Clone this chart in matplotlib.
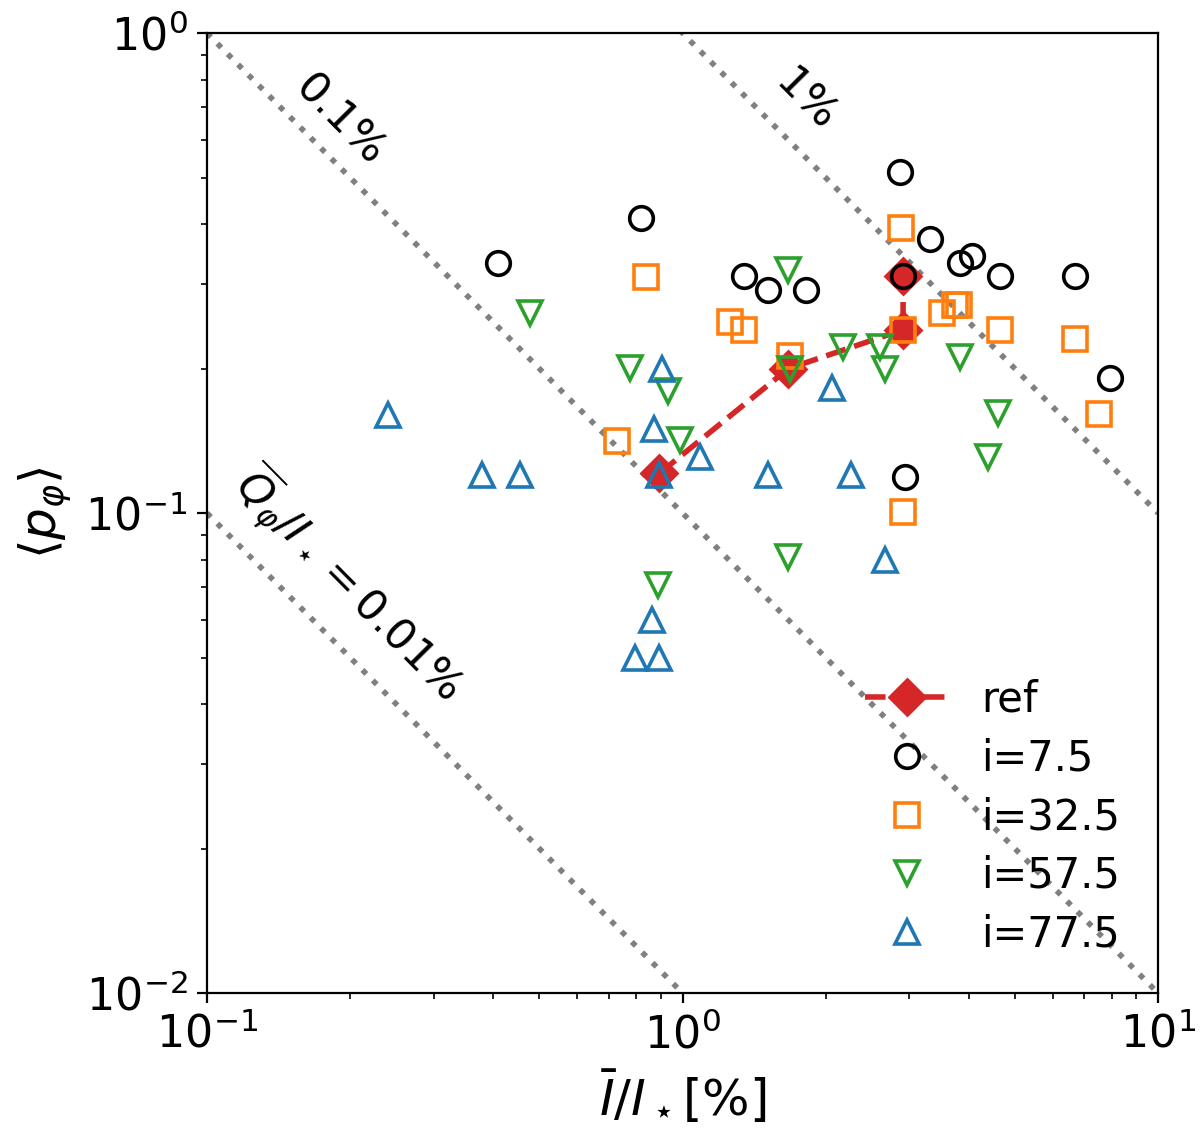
import numpy as np
import matplotlib
matplotlib.use('Agg')
import matplotlib.pyplot as plt

# I/I* [%] and <p_phi> per inclination
i75_x = [0.409, 0.819, 1.35, 1.51, 1.82, 2.87, 3.32, 3.83, 4.06, 4.65, 6.69, 7.93, 2.94, 2.91]
i75_y = [0.332, 0.412, 0.312, 0.292, 0.292, 0.513, 0.372, 0.332, 0.343, 0.312, 0.312, 0.191, 0.119, 0.312]

i325_x = [0.838, 2.88, 1.26, 1.35, 1.68, 2.91, 3.51, 3.74, 3.81, 4.65, 6.69, 7.52, 0.728, 2.91]
i325_y = [0.310, 0.392, 0.250, 0.241, 0.212, 0.241, 0.261, 0.271, 0.271, 0.241, 0.231, 0.161, 0.141, 0.1005]

i575_x = [0.477, 0.776, 0.932, 0.988, 1.67, 1.68, 2.18, 2.60, 2.67, 3.83, 4.61, 4.39, 1.67, 0.888]
i575_y = [0.261, 0.201, 0.180, 0.142, 0.321, 0.200, 0.222, 0.222, 0.200, 0.211, 0.162, 0.131, 0.081, 0.0708]

i775_x = [0.240, 0.379, 0.455, 0.905, 0.871, 0.894, 1.09, 1.51, 2.06, 2.26, 2.67, 0.863, 0.794, 0.894]
i775_y = [0.160, 0.120, 0.120, 0.200, 0.150, 0.120, 0.131, 0.120, 0.182, 0.120, 0.0798, 0.0598, 0.050, 0.050]

ref_x = [0.894, 1.67, 2.91, 2.91]
ref_y = [0.121, 0.200, 0.241, 0.312]

# constant Q_phi/I* lines, in %
q_levels = [0.01, 0.1, 1.0]

fig = plt.figure(figsize=(6, 5.715), dpi=200)
ax = fig.add_axes([0.1725, 0.1312, 0.7925, 0.8398])

xx = np.logspace(-1, 1, 50)
for q in q_levels:
    ax.plot(xx, q / xx, ls=':', color='grey', lw=2, zorder=1)

ax.plot(ref_x, ref_y, '--D', color='C3', lw=2, ms=9, label='ref', zorder=2)

mk = dict(ls='none', mfc='none', ms=8.5, mew=1.3, zorder=3)
ax.plot(i75_x, i75_y, 'o', color='k', label='i=7.5', **mk)
ax.plot(i325_x, i325_y, 's', color='C1', label='i=32.5', **mk)
ax.plot(i575_x, i575_y, 'v', color='C2', label='i=57.5', **mk)
ax.plot(i775_x, i775_y, '^', color='C0', label='i=77.5', **mk)

ax.set_xscale('log')
ax.set_yscale('log')
ax.set_xlim(0.1, 10)
ax.set_ylim(0.01, 1)

ax.text(0.19, 0.659, '0.1%', rotation=-45.3, rotation_mode='anchor',
        ha='center', va='center', fontsize=15.5)
ax.text(1.81, 0.725, '1%', rotation=-45.3, rotation_mode='anchor',
        ha='center', va='center', fontsize=15.5)
ax.text(0.2, 0.0708, r'$\overline{Q}_\varphi/I_\star = 0.01\%$', rotation=-45.3,
        rotation_mode='anchor', ha='center', va='center', fontsize=15.5)

ax.set_xlabel(r'$\bar{I}/I_\star[\%]$', fontsize=18)
ax.set_ylabel(r'$\langle p_\varphi\rangle$', fontsize=18)
ax.tick_params(labelsize=16)

ax.legend(loc='lower right', frameon=False, fontsize=15, labelspacing=0.4)

fig.savefig('out.png')
